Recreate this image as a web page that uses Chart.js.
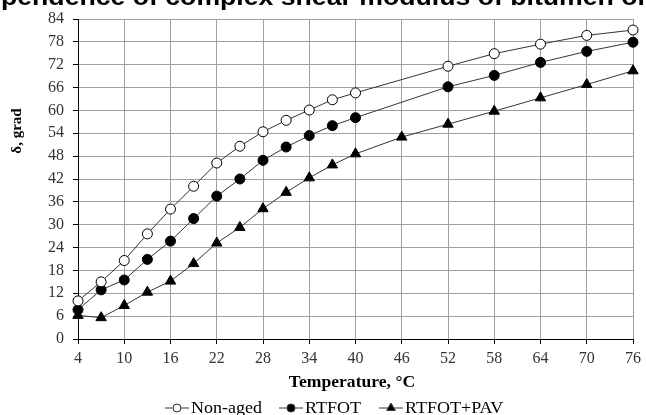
<!DOCTYPE html>
<html>
<head>
<meta charset="utf-8">
<script src="https://cdn.jsdelivr.net/npm/chart.js@4.4.0/dist/chart.umd.min.js"></script>
<style>
  html, body { margin: 0; padding: 0; background: #fff; }
</style>
</head>
<body>
<canvas id="delta" width="646" height="415"></canvas>
<script>
// texts
const titleText = "Dependence of complex shear modulus of bitumen on temperature";
const xTitle = "Temperature, °C";
const yTitle = "δ, grad";
const seriesNames = ["Non-aged", "RTFOT", "RTFOT+PAV"];

// temperatures, °C
const temps = [4, 7, 10, 13, 16, 19, 22, 25, 28, 31, 34, 37, 40, 52, 58, 64, 70, 76];
const tempsPav = [4, 7, 10, 13, 16, 19, 22, 25, 28, 31, 34, 37, 40, 46, 52, 58, 64, 70, 76];

// phase angle δ, grad
const nonAged = [10, 15, 20.6, 27.6, 34.1, 40.1, 46.2, 50.6, 54.4, 57.4, 60.1, 62.8, 64.6, 71.6, 74.9, 77.4, 79.7, 81.1];
const rtfot = [7.7, 12.9, 15.5, 20.9, 25.7, 31.6, 37.5, 42.0, 46.9, 50.4, 53.4, 56.0, 58.1, 66.2, 69.2, 72.6, 75.5, 77.9];
const rtfotPav = [6.2, 5.6, 8.8, 12.3, 15.2, 19.8, 25.2, 29.3, 34.2, 38.5, 42.3, 45.7, 48.6, 53.0, 56.4, 59.8, 63.3, 66.8, 70.4];

// axis ticks
const xTicks = [4, 10, 16, 22, 28, 34, 40, 46, 52, 58, 64, 70, 76];
const yTicks = [0, 6, 12, 18, 24, 30, 36, 42, 48, 54, 60, 66, 72, 78, 84];

function points(xs, ys) {
  return xs.map((x, i) => ({ x: x, y: ys[i] }));
}

function marker(ctx, style, x, y, r, fill) {
  ctx.beginPath();
  if (style === "triangle") {
    ctx.moveTo(x, y - r);
    ctx.lineTo(x + r * 0.866, y + r / 2);
    ctx.lineTo(x - r * 0.866, y + r / 2);
    ctx.closePath();
  } else {
    ctx.arc(x, y, r, 0, Math.PI * 2);
  }
  ctx.fillStyle = fill;
  ctx.fill();
  ctx.stroke();
}

// text a bit wider than the font, like in the picture
function wideText(ctx, text, x, y, sx) {
  ctx.save();
  ctx.translate(x, y);
  ctx.scale(sx, 1);
  ctx.fillText(text, 0, 0);
  ctx.restore();
}

const serif = "'Liberation Serif', 'Times New Roman', serif";

// title, axis titles, legend
const textPlugin = {
  id: "texts",
  afterDraw(chart) {
    const ctx = chart.ctx;
    ctx.save();
    ctx.fillStyle = "#000";
    ctx.font = "bold 24px 'Liberation Sans', Arial, sans-serif";
    ctx.textAlign = "left";
    ctx.textBaseline = "alphabetic";
    wideText(ctx, titleText, 1 - ctx.measureText("De").width * 1.11, 5, 1.11);

    ctx.font = "bold 16px " + serif;
    ctx.textAlign = "center";
    ctx.textBaseline = "middle";
    wideText(ctx, xTitle, 352, 383, 1.1);

    ctx.save();
    ctx.translate(17, 131);
    ctx.rotate(-Math.PI / 2);
    ctx.font = "bold 15px " + serif;
    ctx.fillText(yTitle, 0, 0);
    ctx.restore();

    // legend
    const ds = chart.data.datasets;
    const starts = [165, 279, 379];
    const ly = 408;
    ctx.font = "17px " + serif;
    ctx.textAlign = "left";
    ds.forEach((d, i) => {
      const x0 = starts[i];
      ctx.strokeStyle = "#333";
      ctx.lineWidth = 1;
      ctx.beginPath();
      ctx.moveTo(x0, ly);
      ctx.lineTo(x0 + 24, ly);
      ctx.stroke();
      marker(ctx, d.pointStyle, x0 + 12, ly, d.pointStyle === "triangle" ? 5 : 4, d.pointBackgroundColor);
      ctx.fillStyle = "#000";
      wideText(ctx, d.label, x0 + 26, ly + 1, 1.06);
    });
    ctx.restore();
  }
};

function createChart(element) {
  const datasets = [
    {
      label: seriesNames[0],
      data: points(temps, nonAged),
      pointStyle: "circle",
      pointRadius: 5,
      pointBackgroundColor: "#fff",
    },
    {
      label: seriesNames[1],
      data: points(temps, rtfot),
      pointStyle: "circle",
      pointRadius: 5,
      pointBackgroundColor: "#000",
    },
    {
      label: seriesNames[2],
      data: points(tempsPav, rtfotPav),
      pointStyle: "triangle",
      pointRadius: 6,
      pointBackgroundColor: "#000",
    },
  ];
  datasets.forEach((d) => {
    d.borderColor = "#333";
    d.borderWidth = 1;
    d.pointBorderColor = "#000";
    d.pointBorderWidth = 1;
    d.tension = 0;
    d.clip = false;
  });

  const tickFont = { family: serif, size: 16 };

  const config = {
    type: "line",
    data: { datasets: datasets },
    options: {
      responsive: false,
      animation: false,
      devicePixelRatio: 1,
      layout: { padding: { top: 19, right: 7, bottom: 0, left: 0 } },
      plugins: {
        legend: { display: false },
        tooltip: { enabled: false },
      },
      scales: {
        x: {
          type: "linear",
          min: 4,
          max: 76,
          afterBuildTicks: (s) => { s.ticks = xTicks.map((v) => ({ value: v })); },
          afterFit: (s) => { s.height = 76; },
          ticks: { font: tickFont, color: "#333", padding: 5, maxRotation: 0, autoSkip: false },
          grid: { color: "#9f9f9f", tickColor: "#000", tickLength: 5 },
          border: { color: "#000", width: 1 },
        },
        y: {
          min: 0,
          max: 84,
          afterBuildTicks: (s) => { s.ticks = yTicks.map((v) => ({ value: v })); },
          afterFit: (s) => { s.width = 78; },
          ticks: { font: tickFont, color: "#333", padding: 9, autoSkip: false },
          grid: { color: "#9f9f9f", tickColor: "#000", tickLength: 5 },
          border: { color: "#000", width: 1 },
        },
      },
    },
    plugins: [textPlugin],
  };
  const ctx = document.getElementById(element);
  return new Chart(ctx, config);
}

const deltaChart = createChart("delta");
</script>
</body>
</html>
